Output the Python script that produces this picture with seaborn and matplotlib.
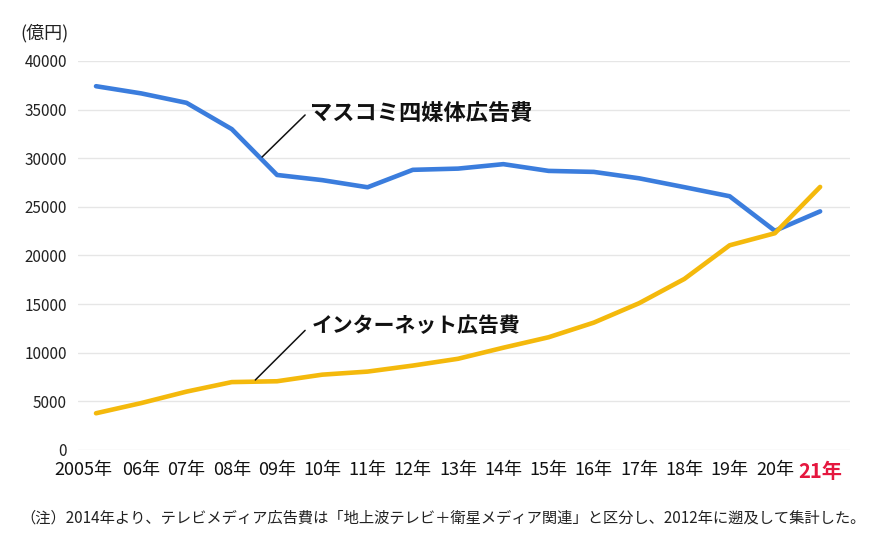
import matplotlib
matplotlib.use("Agg")
import matplotlib.pyplot as plt
import matplotlib.transforms as mtransforms
import seaborn as sns
import pandas as pd

# データ（億円）
years = ["2005年", "06年", "07年", "08年", "09年", "10年", "11年", "12年", "13年",
         "14年", "15年", "16年", "17年", "18年", "19年", "20年", "21年"]
mass_media = [37408, 36668, 35699, 32995, 28282, 27749, 27016, 28809, 28935,
              29393, 28699, 28596, 27938, 27026, 26094, 22536, 24538]
internet = [3777, 4826, 6003, 6983, 7069, 7747, 8062, 8680, 9381,
            10519, 11594, 13100, 15094, 17589, 21048, 22290, 27052]
yticks = [0, 5000, 10000, 15000, 20000, 25000, 30000, 35000, 40000]

sns.set_style("white")
plt.rcParams["font.family"] = ["Noto Sans CJK JP", "DejaVu Sans"]

df = pd.DataFrame({"x": range(len(years)), "mass": mass_media, "net": internet})

fig = plt.figure(figsize=(8.86, 5.36), dpi=100)
ax = fig.add_axes([78 / 886, 86 / 536, 772 / 886, 389 / 536])

sns.lineplot(data=df, x="x", y="mass", ax=ax, color="#3b7ddd", linewidth=3.3,
             solid_capstyle="round", solid_joinstyle="round")
sns.lineplot(data=df, x="x", y="net", ax=ax, color="#f4b90c", linewidth=3.3,
             solid_capstyle="round", solid_joinstyle="round")

ax.set_xlim(-0.398, 16.66)
ax.set_ylim(0, 40000)
ax.tick_params(axis="y", length=0, pad=8)
ax.tick_params(axis="x", length=0, pad=8)
ax.set_yticks(yticks)
ax.set_yticklabels([str(v) for v in yticks], fontsize=11, color="#222222")
ax.set_xticks(range(len(years)))
ax.set_xticklabels(years, fontsize=13, color="#111111")
xlabs = ax.get_xticklabels()
xlabs[-1].set_color("#e5173f")
xlabs[-1].set_fontweight("bold")
xlabs[-1].set_fontsize(14.5)
# 2005年 だけ少し左寄せ
xlabs[0].set_transform(xlabs[0].get_transform()
                       + mtransforms.ScaledTranslation(-0.13, 0, fig.dpi_scale_trans))
ax.set_xlabel("")
ax.set_ylabel("")
ax.grid(axis="y", color="#e6e6e6", linewidth=1)
for s in ax.spines.values():
    s.set_visible(False)

# 注記（引き出し線とラベル）
line_kw = dict(arrowstyle="-", color="#111111", lw=1.1, shrinkA=0, shrinkB=0)
ax.annotate("", xy=(3.67, 30130), xytext=(4.62, 34450), arrowprops=line_kw)
ax.text(4.73, 34650, "マスコミ四媒体広告費", fontsize=16, fontweight="bold",
        color="#111111", va="center", ha="left")
ax.annotate("", xy=(3.52, 7200), xytext=(4.62, 12300), arrowprops=line_kw)
ax.text(4.77, 12800, "インターネット広告費", fontsize=15, fontweight="bold",
        color="#111111", va="center", ha="left")

fig.text(20 / 886, 1 - 33 / 536, "(億円)", fontsize=13, va="center", ha="left",
         color="#222222")
fig.text(443 / 886, 1 - 518 / 536,
         "（注）2014年より、テレビメディア広告費は「地上波テレビ＋衛星メディア関連」と区分し、2012年に遡及して集計した。",
         fontsize=11, va="center", ha="center", color="#222222")

fig.savefig("out.png", dpi=100)
